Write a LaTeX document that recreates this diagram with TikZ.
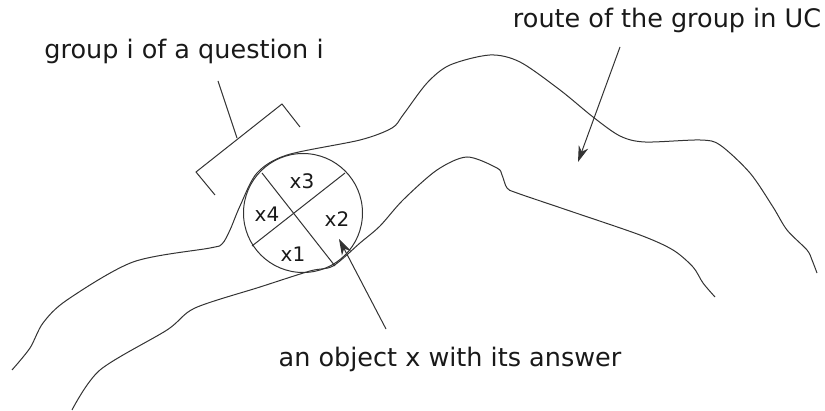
\documentclass[tikz,border=0pt]{standalone}
\usepackage{fontspec}
\setmainfont{DejaVu Sans}
\usetikzlibrary{arrows.meta}
\begin{document}
\begin{tikzpicture}[x=1pt,y=-1pt,
  line/.style={line width=1pt,black!80},
  lbl/.style={inner sep=0pt,font=\fontsize{25.5}{28}\selectfont,anchor=base,text=black!90},
  xl/.style={inner sep=0pt,font=\fontsize{20}{22}\selectfont,text=black!90},
  arr/.style={line,-{Stealth[length=16pt,width=10pt,inset=5pt]}}]
\useasboundingbox (0,0) rectangle (825,411);
% route boundaries
\draw[line] plot[smooth,tension=0.5] coordinates {(12,370) (30,348) (43,323) (67,300) (133,262) (210,248) (222,244) (230,230) (240,206) (257,173) (287,155) (360,140) (392,128) (403,115) (427,83) (450,65) (490,55) (520,62) (560,90) (593,117) (620,136) (645,142) (700,140) (720,145) (750,173) (773,207) (787,230) (807,250) (812,260) (817,273)};
\draw[line] plot[smooth,tension=0.5] coordinates {(72,410) (100,370) (167,330) (195,308) (260,287) (310,271) (333,266) (360,243) (380,226) (403,200) (437,170) (467,157) (497,168) (502,175) (507,188) (517,193) (567,210) (640,235) (673,250) (693,267) (703,283) (715,297)};
% object circle
\node[line,draw,circle,minimum size=119pt,inner sep=0pt] (obj) at (303,213) {};
\draw[line] (262,173) -- (335,266);
\draw[line] (345,173) -- (252,246);
\node[xl] (x3) at (302,181) {x3};
\node[xl] (x4) at (267,214) {x4};
\node[xl] (x2) at (337,219) {x2};
\node[xl] (x1) at (293,254) {x1};
% bracket
\coordinate (b1) at (215,195);
\coordinate (b2) at (196,172);
\coordinate (b3) at (282,104);
\coordinate (b4) at (300,127);
\coordinate (bs) at (237,138);
\coordinate (bt) at (218,81);
\draw[line] (b1) -- (b2) -- (b3) -- (b4);
\draw[line] (bs) -- (bt);
% labels
\node[lbl] (grp) at (184,59) {group i of a question i};
\node[lbl] (route) at (667,28) {route of the group in UC};
\node[lbl] (ans) at (450,367) {an object x with its answer};
\coordinate (rt) at (620,47);
\coordinate (rh) at (578,162);
\coordinate (at) at (386,329);
\coordinate (ah) at (339,239);
\draw[arr] (rt) -- (rh);
\draw[arr] (at) -- (ah);
\end{tikzpicture}
\end{document}
